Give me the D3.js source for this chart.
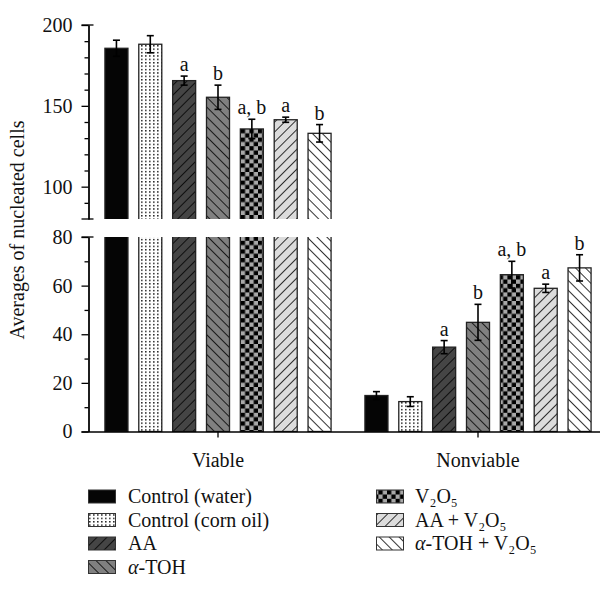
<!DOCTYPE html>
<html>
<head>
<meta charset="utf-8">
<script src="https://cdn.jsdelivr.net/npm/d3@7"></script>
<style>
  body { margin: 0; background: #fff; }
  svg text { font-family: "Liberation Serif", "DejaVu Serif", serif; fill: #111; }
</style>
</head>
<body>
<div id="graph"></div>
<script>
const groups = ["Viable", "Nonviable"];
const treatments = ["Control (water)", "Control (corn oil)", "AA", "α-TOH", "V₂O₅", "AA + V₂O₅", "α-TOH + V₂O₅"];
const viableMeans = [185.6, 188.1, 165.6, 155.3, 135.7, 141.4, 133.0];
const viableSD = [5.0, 5.3, 2.8, 7.5, 6.0, 1.6, 5.4];
const nonviableMeans = [14.8, 12.3, 34.7, 44.9, 64.5, 58.9, 67.3];
const nonviableSD = [1.6, 2.0, 2.7, 7.4, 5.5, 1.7, 5.4];
const viableSig = ["", "", "a", "b", "a, b", "a", "b"];
const nonviableSig = ["", "", "a", "b", "a, b", "a", "b"];
const lowerTicks = [0, 20, 40, 60, 80];
const lowerMinor = [10, 30, 50, 70];
const upperTicks = [100, 150, 200];
const upperMinor = [90, 110, 120, 130, 140, 160, 170, 180, 190];
const fills = ["fill-black", "fill-dots", "fill-aa", "fill-toh", "fill-check", "fill-aav", "fill-tohv"];

const w = 608;
const h = 592;
const axisX = 88.5;

const svg = d3.select("#graph")
  .append("svg")
  .attr("width", w)
  .attr("height", h)
  .style("font-family", "'Liberation Serif', 'DejaVu Serif', serif");

// patterns
const defs = svg.append("defs");
defs.append("pattern").attr("id", "fill-black")
  .attr("patternUnits", "userSpaceOnUse").attr("width", 4).attr("height", 4)
  .append("rect").attr("width", 4).attr("height", 4).attr("fill", "#050505");

const dots = defs.append("pattern").attr("id", "fill-dots")
  .attr("patternUnits", "userSpaceOnUse").attr("width", 4).attr("height", 3.4);
dots.append("rect").attr("width", 4).attr("height", 3.4).attr("fill", "#fff");
dots.append("rect").attr("x", 1).attr("y", 1).attr("width", 1.6).attr("height", 1.2).attr("fill", "#000");

function hatch(id, bg, angle) {
  const p = defs.append("pattern").attr("id", id)
    .attr("patternUnits", "userSpaceOnUse").attr("width", 7).attr("height", 7)
    .attr("patternTransform", `rotate(${angle})`);
  p.append("rect").attr("width", 7).attr("height", 7).attr("fill", bg);
  p.append("line").attr("x1", 0).attr("y1", 0).attr("x2", 0).attr("y2", 7)
    .attr("stroke", "#000").attr("stroke-width", 1.6);
}
hatch("fill-aa", "#454545", 45);
hatch("fill-toh", "#808080", -45);
hatch("fill-aav", "#dcdcdc", 45);
hatch("fill-tohv", "#ffffff", -45);

const chk = defs.append("pattern").attr("id", "fill-check")
  .attr("patternUnits", "userSpaceOnUse").attr("width", 8.6).attr("height", 8.6);
chk.append("rect").attr("width", 8.6).attr("height", 8.6).attr("fill", "#a8a8a8");
chk.append("rect").attr("width", 4.3).attr("height", 4.3).attr("fill", "#000");
chk.append("rect").attr("x", 4.3).attr("y", 4.3).attr("width", 4.3).attr("height", 4.3).attr("fill", "#000");

// scales: broken axis
const yLow = d3.scaleLinear().domain([0, 80]).range([431.5, 237]);
const yUp = d3.scaleLinear().domain([80, 200]).range([219, 25]);

const xGroup = d3.scaleBand().domain(groups).range([88, 608]);
const xInner = d3.scaleBand().domain(treatments).range([0, xGroup.bandwidth()])
  .paddingInner(0.32).paddingOuter(0.5);

defs.append("clipPath").attr("id", "clip-low")
  .append("rect").attr("x", 0).attr("y", yLow(80)).attr("width", w).attr("height", yLow(0) - yLow(80) + 1);
defs.append("clipPath").attr("id", "clip-up")
  .append("rect").attr("x", 0).attr("y", 0).attr("width", w).attr("height", yUp(80));

const rows = [];
groups.forEach((g, gi) => {
  const means = gi === 0 ? viableMeans : nonviableMeans;
  const sds = gi === 0 ? viableSD : nonviableSD;
  const sig = gi === 0 ? viableSig : nonviableSig;
  treatments.forEach((t, i) => {
    rows.push({ group: g, treat: t, i: i, mean: means[i], sd: sds[i], sig: sig[i] });
  });
});

const barX = (d) => xGroup(d.group) + xInner(d.treat);
const bw = xInner.bandwidth();

// lower segment bars
svg.append("g").attr("clip-path", "url(#clip-low)")
  .selectAll("rect")
  .data(rows)
  .enter()
  .append("rect")
  .attr("x", barX)
  .attr("y", (d) => d.mean > 80 ? yLow(80) - 5 : yLow(d.mean))
  .attr("width", bw)
  .attr("height", (d) => yLow(0) - (d.mean > 80 ? yLow(80) - 5 : yLow(d.mean)))
  .attr("fill", (d) => `url(#${fills[d.i]})`)
  .attr("stroke", "#222")
  .attr("stroke-width", 1.3);

// upper segment bars
const tall = rows.filter((d) => d.mean > 80);
svg.append("g").attr("clip-path", "url(#clip-up)")
  .selectAll("rect")
  .data(tall)
  .enter()
  .append("rect")
  .attr("x", barX)
  .attr("y", (d) => yUp(d.mean))
  .attr("width", bw)
  .attr("height", (d) => yUp(80) + 5 - yUp(d.mean))
  .attr("fill", (d) => `url(#${fills[d.i]})`)
  .attr("stroke", "#222")
  .attr("stroke-width", 1.3);

const yOf = (v) => v > 80 ? yUp(v) : yLow(v);

// error bars
const eb = svg.append("g").attr("stroke", "#000").attr("stroke-width", 1.6);
rows.forEach((d) => {
  const cx = barX(d) + bw / 2;
  const top = yOf(d.mean + d.sd);
  const bot = yOf(d.mean - d.sd);
  eb.append("line").attr("x1", cx).attr("x2", cx).attr("y1", top).attr("y2", bot);
  eb.append("line").attr("x1", cx - 3.5).attr("x2", cx + 3.5).attr("y1", top).attr("y2", top);
  eb.append("line").attr("x1", cx - 3.5).attr("x2", cx + 3.5).attr("y1", bot).attr("y2", bot);
});

// significance letters
svg.append("g")
  .selectAll("text")
  .data(rows.filter((d) => d.sig))
  .enter()
  .append("text")
  .attr("x", (d) => barX(d) + bw / 2)
  .attr("y", (d) => yOf(d.mean + d.sd) - 5)
  .attr("text-anchor", "middle")
  .style("font-size", "20px")
  .text((d) => d.sig);

// y axes
function styleAxis(g) {
  g.attr("font-family", null);
  g.selectAll("path,line").attr("stroke", "#000").attr("stroke-width", 1.3);
  g.selectAll("text").style("font-size", "20px");
}

svg.append("g")
  .attr("transform", `translate(${axisX},0)`)
  .call(d3.axisLeft(yUp).tickValues(upperTicks).tickSize(7).tickSizeOuter(0).tickPadding(9))
  .call(styleAxis);
svg.append("g")
  .attr("transform", `translate(${axisX},0)`)
  .call(d3.axisLeft(yUp).tickValues(upperMinor).tickSize(4).tickSizeOuter(0).tickFormat(""))
  .call(styleAxis);
svg.append("g")
  .attr("transform", `translate(${axisX},0)`)
  .call(d3.axisLeft(yLow).tickValues(lowerTicks).tickSize(7).tickSizeOuter(0).tickPadding(9))
  .call(styleAxis);
svg.append("g")
  .attr("transform", `translate(${axisX},0)`)
  .call(d3.axisLeft(yLow).tickValues(lowerMinor).tickSize(4).tickSizeOuter(0).tickFormat(""))
  .call(styleAxis);

// caps at the axis break
const caps = svg.append("g").attr("stroke", "#000").attr("stroke-width", 1.3);
[yUp(80), yLow(80), yUp(200)].forEach((y) => {
  caps.append("line").attr("x1", axisX - 7).attr("x2", axisX + 5).attr("y1", y).attr("y2", y);
});

// x axis
const xAxis = d3.axisBottom(xGroup).tickSize(6).tickSizeOuter(0).tickFormat("");
svg.append("g")
  .attr("transform", `translate(0,${yLow(0)})`)
  .call(xAxis)
  .call(styleAxis)
  .select(".domain").attr("d", `M${axisX - 7},0.5H600`);

svg.append("g")
  .selectAll("text")
  .data(groups)
  .enter()
  .append("text")
  .attr("x", (d) => xGroup(d) + xGroup.bandwidth() / 2)
  .attr("y", 467)
  .attr("text-anchor", "middle")
  .style("font-size", "20px")
  .text((d) => d);

// y title
svg.append("text")
  .attr("transform", "translate(24,230) rotate(-90)")
  .attr("text-anchor", "middle")
  .style("font-size", "20px")
  .text("Averages of nucleated cells");

// legend: alpha in italics, subscripts are unicode so each label stays one text
function richLabel(sel, label) {
  label.split(/(α)/).filter((s) => s).forEach((part) => {
    const ts = sel.append("tspan").text(part);
    if (part === "α") ts.style("font-style", "italic");
  });
}

const legendCols = [
  { sx: 88.5, tx: 128 },
  { sx: 376.5, tx: 415 }
];
const legendRowY = [497, 520.5, 544, 567.5];
const legend = svg.append("g");
treatments.forEach((t, i) => {
  const col = legendCols[i < 4 ? 0 : 1];
  const cy = legendRowY[i < 4 ? i : i - 4];
  legend.append("rect")
    .attr("x", col.sx).attr("y", cy - 7)
    .attr("width", 27).attr("height", 13)
    .attr("fill", `url(#${fills[i]})`)
    .attr("stroke", "#333").attr("stroke-width", 1);
  const tx = legend.append("text")
    .attr("x", col.tx).attr("y", cy + 6)
    .style("font-size", "20px");
  richLabel(tx, t);
});
</script>
</body>
</html>
